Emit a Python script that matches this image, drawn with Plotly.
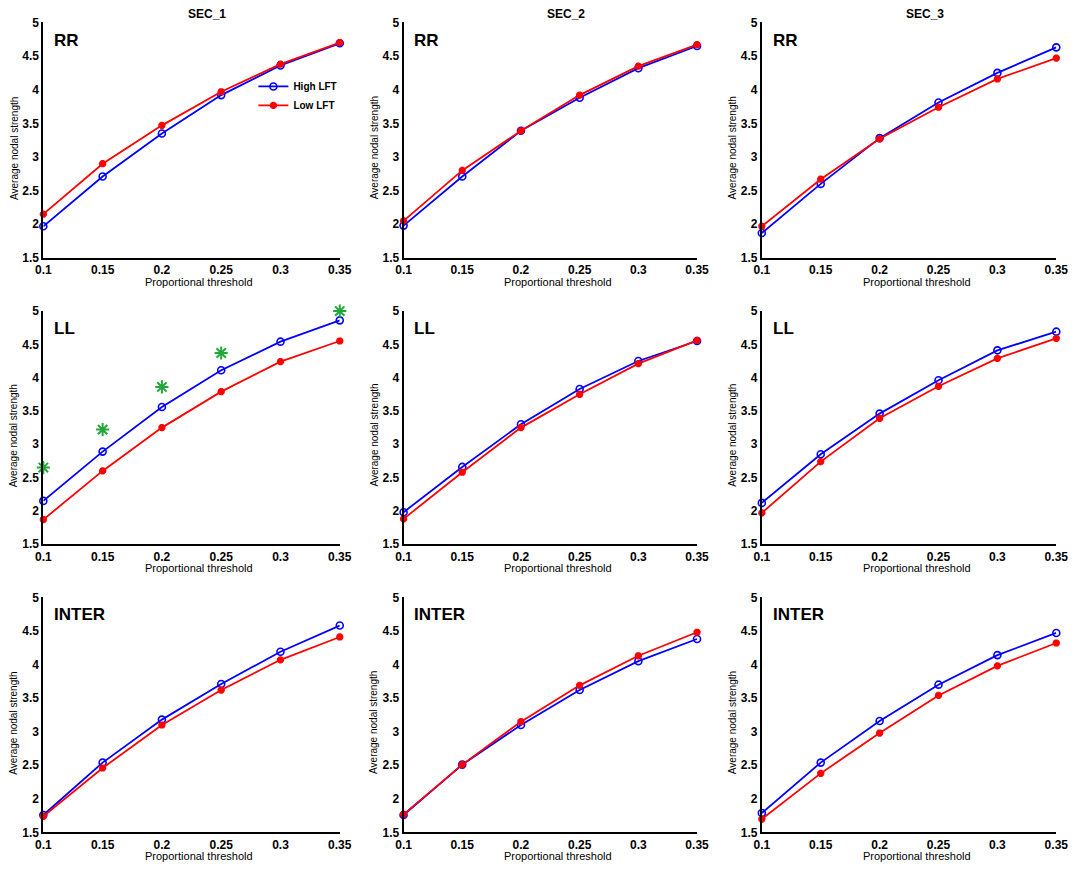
import plotly.graph_objects as go
from plotly.subplots import make_subplots

### data

thresholds = [0.1, 0.15, 0.2, 0.25, 0.3, 0.35]
sections = ["SEC_1", "SEC_2", "SEC_3"]
regions = ["RR", "LL", "INTER"]

# High LFT, per region, per section
high_rr = [[1.97, 2.71, 3.35, 3.92, 4.36, 4.69],
           [1.98, 2.71, 3.39, 3.88, 4.32, 4.65],
           [1.87, 2.60, 3.28, 3.81, 4.25, 4.63]]
high_ll = [[2.15, 2.89, 3.56, 4.11, 4.54, 4.86],
           [1.98, 2.66, 3.30, 3.83, 4.25, 4.55],
           [2.12, 2.85, 3.46, 3.96, 4.41, 4.69]]
high_inter = [[1.76, 2.54, 3.18, 3.71, 4.19, 4.58],
              [1.76, 2.51, 3.10, 3.62, 4.05, 4.38],
              [1.79, 2.54, 3.16, 3.70, 4.14, 4.47]]

# Low LFT
low_rr = [[2.15, 2.90, 3.47, 3.97, 4.38, 4.70],
          [2.05, 2.80, 3.39, 3.92, 4.35, 4.67],
          [1.97, 2.67, 3.27, 3.74, 4.16, 4.47]]
low_ll = [[1.87, 2.60, 3.25, 3.79, 4.24, 4.55],
          [1.88, 2.58, 3.25, 3.75, 4.21, 4.56],
          [1.97, 2.74, 3.39, 3.87, 4.29, 4.59]]
low_inter = [[1.74, 2.46, 3.10, 3.62, 4.07, 4.41],
             [1.77, 2.51, 3.15, 3.69, 4.13, 4.48],
             [1.70, 2.38, 2.98, 3.54, 3.98, 4.32]]

# significance stars (LL, SEC_1 only)
sig_x = [0.1, 0.15, 0.2, 0.25, 0.35]
sig_y = [2.65, 3.22, 3.86, 4.37, 5.0]

x_ticks = [0.1, 0.15, 0.2, 0.25, 0.3, 0.35]
x_ticktext = ["0.1", "0.15", "0.2", "0.25", "0.3", "0.35"]
y_ticks = [1.5, 2, 2.5, 3, 3.5, 4, 4.5, 5]
y_ticktext = ["1.5", "2", "2.5", "3", "3.5", "4", "4.5", "5"]

high = [high_rr, high_ll, high_inter]
low = [low_rr, low_ll, low_inter]

### style

FONT = "Arial, Liberation Sans, sans-serif"
BLUE = "#0000ff"
RED = "#ff0000"
GREEN = "#22a83a"

W, H = 1084, 869
col_px = [(36, 338), (403, 702), (768, 1068)]
row_px = [(15.7, 255), (309, 546), (600, 839)]

fig = make_subplots(rows=3, cols=3)

for r in range(3):
    for c in range(3):
        show = (r == 0 and c == 0)
        fig.add_trace(go.Scatter(
            x=thresholds, y=high[r][c], name="High LFT", mode="lines+markers",
            line=dict(color=BLUE, width=1.8),
            marker=dict(symbol="circle-open", size=7, color=BLUE,
                        line=dict(width=1.6, color=BLUE)),
            showlegend=show, cliponaxis=False), row=r + 1, col=c + 1)
        fig.add_trace(go.Scatter(
            x=thresholds, y=low[r][c], name="Low LFT", mode="lines+markers",
            line=dict(color=RED, width=1.8),
            marker=dict(symbol="asterisk-open", size=6, color=RED,
                        line=dict(width=2.5, color=RED)),
            showlegend=show, cliponaxis=False), row=r + 1, col=c + 1)

fig.add_trace(go.Scatter(
    x=sig_x, y=sig_y, mode="markers", showlegend=False, cliponaxis=False,
    marker=dict(symbol="asterisk-open", size=11, color=GREEN,
                line=dict(width=2, color=GREEN))), row=2, col=1)

annotations = []
for r in range(3):
    for c in range(3):
        idx = r * 3 + c + 1
        x0, x1 = col_px[c]
        y0, y1 = row_px[r]
        sfx = "" if idx == 1 else str(idx)
        fig.layout["xaxis" + sfx].update(domain=[x0 / W, x1 / W])
        fig.layout["yaxis" + sfx].update(domain=[1 - y1 / H, 1 - y0 / H])
        # region label
        annotations.append(dict(
            text=regions[r], xref="x%s domain" % sfx, yref="y%s domain" % sfx,
            x=0.03, y=0.925, xanchor="left", yanchor="middle", showarrow=False,
            font=dict(family=FONT, size=17, color="black", weight="bold")))
        # axis titles
        annotations.append(dict(
            text="Proportional threshold", xref="paper", yref="paper",
            x=(x0 + x1) / 2 / W + 8 / W, y=1 - (y1 + 24) / H,
            xanchor="center", yanchor="middle", showarrow=False,
            font=dict(family=FONT, size=11, color="black")))
        annotations.append(dict(
            text="Average nodal strength", xref="paper", yref="paper",
            x=(x0 - 30) / W, y=1 - (y0 + y1) / 2 / H - 8 / H, textangle=-90,
            xanchor="center", yanchor="middle", showarrow=False,
            font=dict(family=FONT, size=10, color="black")))

for c in range(3):
    x0, x1 = col_px[c]
    annotations.append(dict(
        text=sections[c], xref="paper", yref="paper",
        x=(x0 + x1) / 2 / W + 16 / W, y=1 - 7 / H,
        xanchor="center", yanchor="middle", showarrow=False,
        font=dict(family=FONT, size=12, color="black", weight="bold")))

fig.update_xaxes(range=[0.1, 0.35], tickvals=x_ticks, ticktext=x_ticktext,
                 showgrid=False, zeroline=False, showline=True,
                 linecolor="black", linewidth=2, ticks="",
                 tickfont=dict(family=FONT, size=12, color="black", weight="bold"))
fig.update_yaxes(range=[1.5, 5], tickvals=y_ticks, ticktext=y_ticktext,
                 showgrid=False, zeroline=False, showline=True,
                 linecolor="black", linewidth=2, ticks="",
                 tickfont=dict(family=FONT, size=12, color="black", weight="bold"))

fig.update_layout(
    width=W, height=H,
    margin=dict(l=0, r=0, t=0, b=0),
    paper_bgcolor="white", plot_bgcolor="white",
    annotations=annotations,
    legend=dict(x=250 / W, y=1 - 66 / H, xanchor="left", yanchor="top",
                bgcolor="rgba(0,0,0,0)", tracegroupgap=0,
                font=dict(family=FONT, size=10, color="black", weight="bold")),
)

# page margin off so the figure sits at the window's corner
fig.write_html("out.html", config={"displayModeBar": False},
               post_script="document.body.style.margin='0';")
